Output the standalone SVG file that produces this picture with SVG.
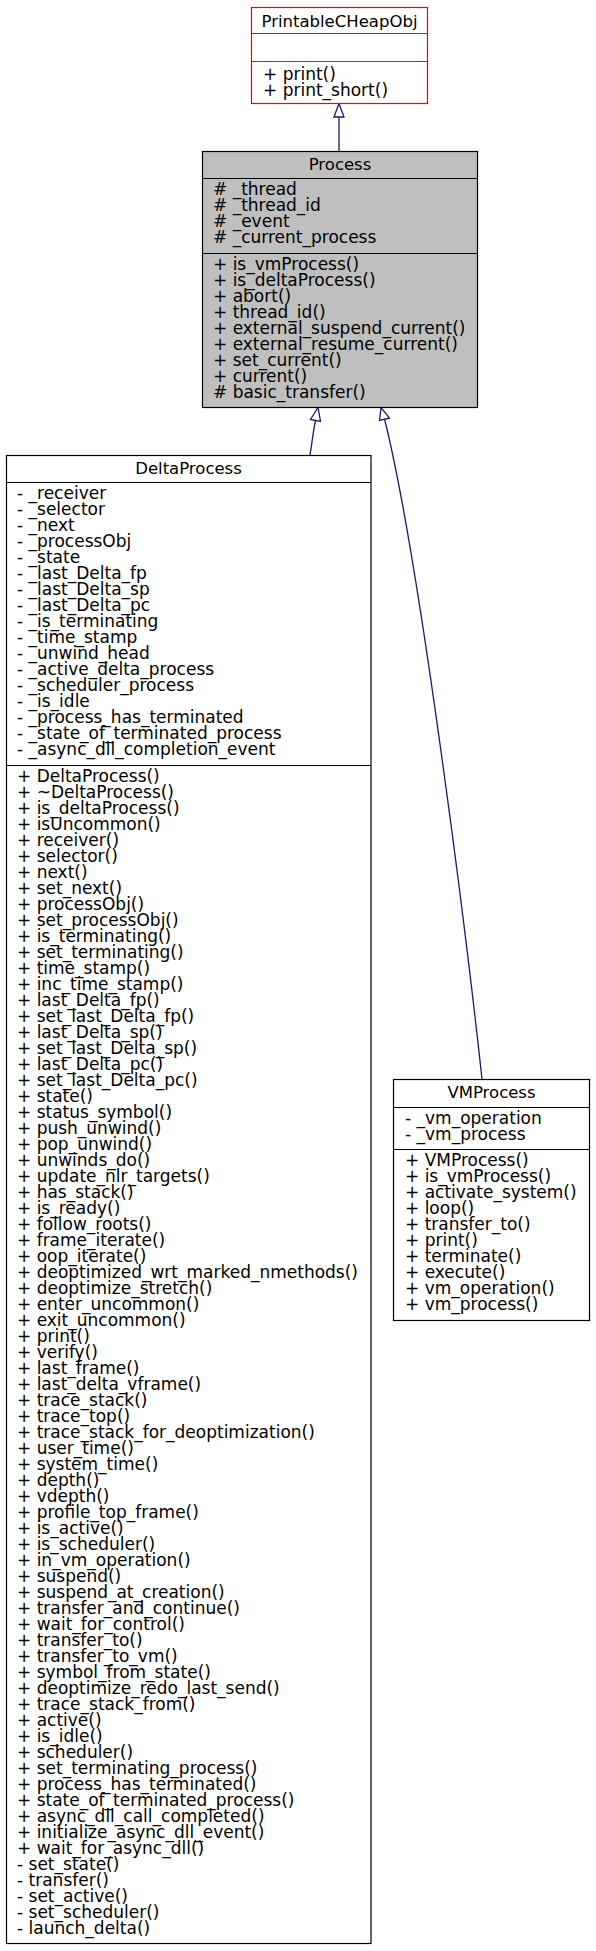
<svg xmlns="http://www.w3.org/2000/svg" width="596" height="1951" viewBox="0 0 596 1951">
<style>
text{font-family:"DejaVu Sans","Liberation Sans",sans-serif;font-size:17px;fill:#000}
.t{text-anchor:middle;font-size:16.5px}
.box{fill:#fff;stroke:#000;stroke-width:1.2}
.red{fill:#fff;stroke:#ff0000;stroke-width:1.2}
.gray{fill:#bfbfbf;stroke:#000;stroke-width:1.2}
.sep{stroke:#000;stroke-width:1.2}
.sepr{stroke:#ff0000;stroke-width:1.2}
.edge{fill:none;stroke:#191970;stroke-width:1.3}
.head{fill:#fff;stroke:#191970;stroke-width:1.3}
</style>
<rect width="596" height="1951" fill="#fff"/>
<g id="connectors">
<path class="edge" d="M339,151 L339,117"/>
<polygon class="head" points="334,117 339,103.5 344,117"/>
<path class="edge" d="M310,455 C312,444 313,432 315.5,420.5"/>
<polygon class="head" points="310.5,419.5 318,407.5 320.5,421.5"/>
<path class="edge" d="M482,1079 C468,950 420,560 384.5,419"/>
<polygon class="head" points="379.5,420.5 381,407.5 389.5,418"/>
</g>
<g id="PrintableCHeapObj">
<rect class="red" x="251.5" y="7.5" width="176" height="96"/>
<line class="sepr" x1="251.5" y1="33.5" x2="427.5" y2="33.5"/>
<line class="sepr" x1="251.5" y1="61.5" x2="427.5" y2="61.5"/>
<text class="t" x="339.5" y="27">PrintableCHeapObj</text>
<text x="263" y="80">+ print()</text>
<text x="263" y="96">+ print_short()</text>
</g>
<g id="Process">
<rect class="gray" x="202.5" y="151.5" width="275" height="256"/>
<line class="sep" x1="202.5" y1="178.5" x2="477.5" y2="178.5"/>
<line class="sep" x1="202.5" y1="253.5" x2="477.5" y2="253.5"/>
<text class="t" x="340" y="170">Process</text>
<text x="213" y="195"># _thread</text>
<text x="213" y="211"># _thread_id</text>
<text x="213" y="227"># _event</text>
<text x="213" y="243"># _current_process</text>
<text x="213" y="270">+ is_vmProcess()</text>
<text x="213" y="286">+ is_deltaProcess()</text>
<text x="213" y="302">+ abort()</text>
<text x="213" y="318">+ thread_id()</text>
<text x="213" y="334">+ external_suspend_current()</text>
<text x="213" y="350">+ external_resume_current()</text>
<text x="213" y="366">+ set_current()</text>
<text x="213" y="382">+ current()</text>
<text x="213" y="398"># basic_transfer()</text>
</g>
<g id="DeltaProcess">
<rect class="box" x="6.5" y="455.5" width="364.5" height="1488"/>
<line class="sep" x1="6.5" y1="482.5" x2="371" y2="482.5"/>
<line class="sep" x1="6.5" y1="765.5" x2="371" y2="765.5"/>
<text class="t" x="188.5" y="474">DeltaProcess</text>
<text x="17" y="499">- _receiver</text>
<text x="17" y="515">- _selector</text>
<text x="17" y="531">- _next</text>
<text x="17" y="547">- _processObj</text>
<text x="17" y="563">- _state</text>
<text x="17" y="579">- _last_Delta_fp</text>
<text x="17" y="595">- _last_Delta_sp</text>
<text x="17" y="611">- _last_Delta_pc</text>
<text x="17" y="627">- _is_terminating</text>
<text x="17" y="643">- _time_stamp</text>
<text x="17" y="659">- _unwind_head</text>
<text x="17" y="675">- _active_delta_process</text>
<text x="17" y="691">- _scheduler_process</text>
<text x="17" y="707">- _is_idle</text>
<text x="17" y="723">- _process_has_terminated</text>
<text x="17" y="739">- _state_of_terminated_process</text>
<text x="17" y="755">- _async_dll_completion_event</text>
<text x="17" y="782">+ DeltaProcess()</text>
<text x="17" y="798">+ ~DeltaProcess()</text>
<text x="17" y="814">+ is_deltaProcess()</text>
<text x="17" y="830">+ isUncommon()</text>
<text x="17" y="846">+ receiver()</text>
<text x="17" y="862">+ selector()</text>
<text x="17" y="878">+ next()</text>
<text x="17" y="894">+ set_next()</text>
<text x="17" y="910">+ processObj()</text>
<text x="17" y="926">+ set_processObj()</text>
<text x="17" y="942">+ is_terminating()</text>
<text x="17" y="958">+ set_terminating()</text>
<text x="17" y="974">+ time_stamp()</text>
<text x="17" y="990">+ inc_time_stamp()</text>
<text x="17" y="1006">+ last_Delta_fp()</text>
<text x="17" y="1022">+ set_last_Delta_fp()</text>
<text x="17" y="1038">+ last_Delta_sp()</text>
<text x="17" y="1054">+ set_last_Delta_sp()</text>
<text x="17" y="1070">+ last_Delta_pc()</text>
<text x="17" y="1086">+ set_last_Delta_pc()</text>
<text x="17" y="1102">+ state()</text>
<text x="17" y="1118">+ status_symbol()</text>
<text x="17" y="1134">+ push_unwind()</text>
<text x="17" y="1150">+ pop_unwind()</text>
<text x="17" y="1166">+ unwinds_do()</text>
<text x="17" y="1182">+ update_nlr_targets()</text>
<text x="17" y="1198">+ has_stack()</text>
<text x="17" y="1214">+ is_ready()</text>
<text x="17" y="1230">+ follow_roots()</text>
<text x="17" y="1246">+ frame_iterate()</text>
<text x="17" y="1262">+ oop_iterate()</text>
<text x="17" y="1278">+ deoptimized_wrt_marked_nmethods()</text>
<text x="17" y="1294">+ deoptimize_stretch()</text>
<text x="17" y="1310">+ enter_uncommon()</text>
<text x="17" y="1326">+ exit_uncommon()</text>
<text x="17" y="1342">+ print()</text>
<text x="17" y="1358">+ verify()</text>
<text x="17" y="1374">+ last_frame()</text>
<text x="17" y="1390">+ last_delta_vframe()</text>
<text x="17" y="1406">+ trace_stack()</text>
<text x="17" y="1422">+ trace_top()</text>
<text x="17" y="1438">+ trace_stack_for_deoptimization()</text>
<text x="17" y="1454">+ user_time()</text>
<text x="17" y="1470">+ system_time()</text>
<text x="17" y="1486">+ depth()</text>
<text x="17" y="1502">+ vdepth()</text>
<text x="17" y="1518">+ profile_top_frame()</text>
<text x="17" y="1534">+ is_active()</text>
<text x="17" y="1550">+ is_scheduler()</text>
<text x="17" y="1566">+ in_vm_operation()</text>
<text x="17" y="1582">+ suspend()</text>
<text x="17" y="1598">+ suspend_at_creation()</text>
<text x="17" y="1614">+ transfer_and_continue()</text>
<text x="17" y="1630">+ wait_for_control()</text>
<text x="17" y="1646">+ transfer_to()</text>
<text x="17" y="1662">+ transfer_to_vm()</text>
<text x="17" y="1678">+ symbol_from_state()</text>
<text x="17" y="1694">+ deoptimize_redo_last_send()</text>
<text x="17" y="1710">+ trace_stack_from()</text>
<text x="17" y="1726">+ active()</text>
<text x="17" y="1742">+ is_idle()</text>
<text x="17" y="1758">+ scheduler()</text>
<text x="17" y="1774">+ set_terminating_process()</text>
<text x="17" y="1790">+ process_has_terminated()</text>
<text x="17" y="1806">+ state_of_terminated_process()</text>
<text x="17" y="1822">+ async_dll_call_completed()</text>
<text x="17" y="1838">+ initialize_async_dll_event()</text>
<text x="17" y="1854">+ wait_for_async_dll()</text>
<text x="17" y="1870">- set_state()</text>
<text x="17" y="1886">- transfer()</text>
<text x="17" y="1902">- set_active()</text>
<text x="17" y="1918">- set_scheduler()</text>
<text x="17" y="1934">- launch_delta()</text>
</g>
<g id="VMProcess">
<rect class="box" x="393.5" y="1079.5" width="196" height="241"/>
<line class="sep" x1="393.5" y1="1107.5" x2="589.5" y2="1107.5"/>
<line class="sep" x1="393.5" y1="1149.5" x2="589.5" y2="1149.5"/>
<text class="t" x="491.5" y="1098">VMProcess</text>
<text x="405" y="1124">- _vm_operation</text>
<text x="405" y="1140">- _vm_process</text>
<text x="405" y="1166">+ VMProcess()</text>
<text x="405" y="1182">+ is_vmProcess()</text>
<text x="405" y="1198">+ activate_system()</text>
<text x="405" y="1214">+ loop()</text>
<text x="405" y="1230">+ transfer_to()</text>
<text x="405" y="1246">+ print()</text>
<text x="405" y="1262">+ terminate()</text>
<text x="405" y="1278">+ execute()</text>
<text x="405" y="1294">+ vm_operation()</text>
<text x="405" y="1310">+ vm_process()</text>
</g>
</svg>
